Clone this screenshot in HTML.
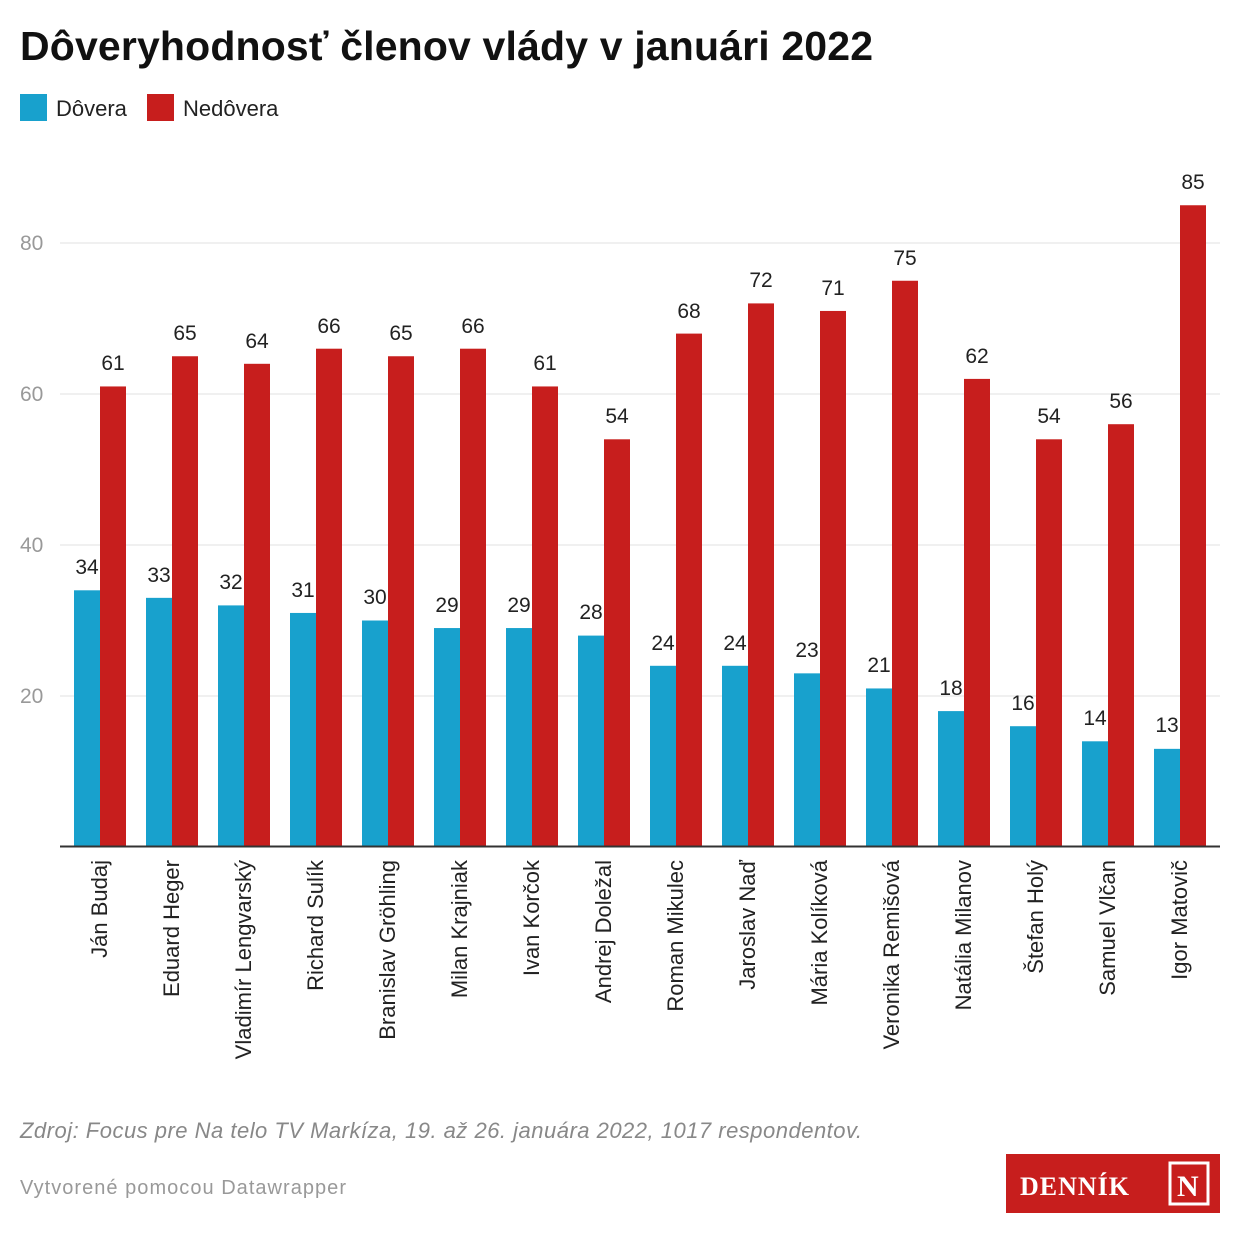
<!DOCTYPE html>
<html><head><meta charset="utf-8"><style>
body{margin:0;background:#fff;}
</style></head><body>
<svg width="1240" height="1240" xmlns="http://www.w3.org/2000/svg" font-family="Liberation Sans, sans-serif" style="display:block">
<rect width="1240" height="1240" fill="#fff"/>
<text x="20" y="60" font-size="41" font-weight="bold" fill="#111" textLength="853">Dôveryhodnosť členov vlády v januári 2022</text>
<rect x="20" y="94" width="27" height="27" fill="#18a1cd"/>
<text x="56" y="116" font-size="22" fill="#222">Dôvera</text>
<rect x="147" y="94" width="27" height="27" fill="#c71e1d"/>
<text x="183" y="116" font-size="22" fill="#222">Nedôvera</text>
<g stroke="#e0e0e0" stroke-width="1">
<line x1="60" x2="1220" y1="243" y2="243"/><line x1="60" x2="1220" y1="394" y2="394"/>
<line x1="60" x2="1220" y1="545" y2="545"/><line x1="60" x2="1220" y1="696" y2="696"/>
</g>
<g font-size="21" fill="#999">
<text x="20" y="250">80</text><text x="20" y="401">60</text><text x="20" y="552">40</text><text x="20" y="703">20</text>
</g>
<g fill="#18a1cd">
<rect x="74" y="590.3" width="26" height="256.7"/>
<rect x="146" y="597.85" width="26" height="249.15"/>
<rect x="218" y="605.4" width="26" height="241.6"/>
<rect x="290" y="612.95" width="26" height="234.05"/>
<rect x="362" y="620.5" width="26" height="226.5"/>
<rect x="434" y="628.05" width="26" height="218.95"/>
<rect x="506" y="628.05" width="26" height="218.95"/>
<rect x="578" y="635.6" width="26" height="211.4"/>
<rect x="650" y="665.8" width="26" height="181.2"/>
<rect x="722" y="665.8" width="26" height="181.2"/>
<rect x="794" y="673.35" width="26" height="173.65"/>
<rect x="866" y="688.45" width="26" height="158.55"/>
<rect x="938" y="711.1" width="26" height="135.9"/>
<rect x="1010" y="726.2" width="26" height="120.8"/>
<rect x="1082" y="741.3" width="26" height="105.7"/>
<rect x="1154" y="748.85" width="26" height="98.15"/>
</g>
<g fill="#c71e1d">
<rect x="100" y="386.45" width="26" height="460.55"/>
<rect x="172" y="356.25" width="26" height="490.75"/>
<rect x="244" y="363.8" width="26" height="483.2"/>
<rect x="316" y="348.7" width="26" height="498.3"/>
<rect x="388" y="356.25" width="26" height="490.75"/>
<rect x="460" y="348.7" width="26" height="498.3"/>
<rect x="532" y="386.45" width="26" height="460.55"/>
<rect x="604" y="439.3" width="26" height="407.7"/>
<rect x="676" y="333.6" width="26" height="513.4"/>
<rect x="748" y="303.4" width="26" height="543.6"/>
<rect x="820" y="310.95" width="26" height="536.05"/>
<rect x="892" y="280.75" width="26" height="566.25"/>
<rect x="964" y="378.9" width="26" height="468.1"/>
<rect x="1036" y="439.3" width="26" height="407.7"/>
<rect x="1108" y="424.2" width="26" height="422.8"/>
<rect x="1180" y="205.25" width="26" height="641.75"/>
</g>
<g font-size="21" fill="#222" text-anchor="middle">
<text x="87" y="574">34</text><text x="159" y="582">33</text><text x="231" y="589">32</text><text x="303" y="597">31</text>
<text x="375" y="604">30</text><text x="447" y="612">29</text><text x="519" y="612">29</text><text x="591" y="619">28</text>
<text x="663" y="650">24</text><text x="735" y="650">24</text><text x="807" y="657">23</text><text x="879" y="672">21</text>
<text x="951" y="695">18</text><text x="1023" y="710">16</text><text x="1095" y="725">14</text><text x="1167" y="732">13</text>
<text x="113" y="370">61</text><text x="185" y="340">65</text><text x="257" y="348">64</text><text x="329" y="333">66</text>
<text x="401" y="340">65</text><text x="473" y="333">66</text><text x="545" y="370">61</text><text x="617" y="423">54</text>
<text x="689" y="318">68</text><text x="761" y="287">72</text><text x="833" y="295">71</text><text x="905" y="265">75</text>
<text x="977" y="363">62</text><text x="1049" y="423">54</text><text x="1121" y="408">56</text><text x="1193" y="189">85</text>
</g>
<g font-size="22" fill="#222" text-anchor="end">
<text transform="translate(107,860) rotate(-90)">Ján Budaj</text>
<text transform="translate(179,860) rotate(-90)">Eduard Heger</text>
<text transform="translate(251,860) rotate(-90)">Vladimír Lengvarský</text>
<text transform="translate(323,860) rotate(-90)">Richard Sulík</text>
<text transform="translate(395,860) rotate(-90)">Branislav Gröhling</text>
<text transform="translate(467,860) rotate(-90)">Milan Krajniak</text>
<text transform="translate(539,860) rotate(-90)">Ivan Korčok</text>
<text transform="translate(611,860) rotate(-90)">Andrej Doležal</text>
<text transform="translate(683,860) rotate(-90)">Roman Mikulec</text>
<text transform="translate(755,860) rotate(-90)">Jaroslav Naď</text>
<text transform="translate(827,860) rotate(-90)">Mária Kolíková</text>
<text transform="translate(899,860) rotate(-90)">Veronika Remišová</text>
<text transform="translate(971,860) rotate(-90)">Natália Milanov</text>
<text transform="translate(1043,860) rotate(-90)">Štefan Holý</text>
<text transform="translate(1115,860) rotate(-90)">Samuel Vlčan</text>
<text transform="translate(1187,860) rotate(-90)">Igor Matovič</text>
</g>
<line x1="60" x2="1220" y1="846.5" y2="846.5" stroke="#333" stroke-width="2"/>
<text x="20" y="1138" font-size="22" font-style="italic" fill="#888" textLength="842">Zdroj: Focus pre Na telo TV Markíza, 19. až 26. januára 2022, 1017 respondentov.</text>
<text x="20" y="1194" font-size="20" fill="#999" textLength="326">Vytvorené pomocou Datawrapper</text>
<rect x="1006" y="1154" width="214" height="59" fill="#c71e1d"/>
<text x="1020" y="1195" font-size="26" font-weight="bold" font-family="Liberation Serif, serif" fill="#fff" letter-spacing="1">DENNÍK</text>
<rect x="1170" y="1163" width="38" height="41" fill="none" stroke="#fff" stroke-width="3"/>
<text x="1177" y="1196" font-size="30" font-weight="bold" font-family="Liberation Serif, serif" fill="#fff">N</text>
</svg>
</body></html>
